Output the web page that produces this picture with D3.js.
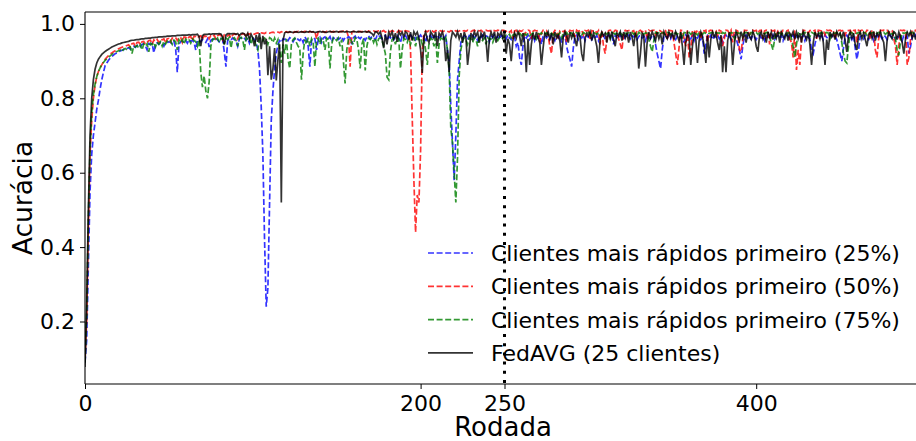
<!DOCTYPE html>
<meta charset="utf-8">
<style>
    body {
        margin: 0;
        background: #fff;
    }

    svg text {
        font-family: "DejaVu Sans", sans-serif;
        fill: #000;
    }
</style>

<body>
    <svg width="916" height="441"></svg>
    <script src="https://d3js.org/d3.v7.min.js"></script>
    <script>
        // accuracy per round, in thousandths
        var fast25 = [
            90,150,350,550,650,700,735,770,795,825,850,870,888,895,902,908,912,916,920,922,925,927,929,931,930,
            934,936,932,938,940,937,942,944,939,945,946,941,930,947,944,948,922,946,949,945,950,948,940,951,949,
            952,950,946,953,935,870,945,952,954,950,955,948,958,953,956,950,930,957,955,952,958,954,950,959,938,
            956,959,955,960,957,952,961,958,925,885,955,960,957,962,958,954,940,960,963,958,961,956,962,948,960,
            962,958,950,930,880,780,650,420,240,290,520,740,820,880,920,945,955,950,960,958,962,955,963,960,952,
            960,964,958,955,962,950,965,958,940,885,955,962,960,930,958,964,950,962,965,958,960,966,952,963,960,
            964,958,962,966,955,963,960,966,962,945,963,967,958,964,960,966,962,956,965,968,960,966,963,958,967,
            963,968,960,965,969,955,966,962,968,958,966,969,962,950,967,964,969,960,966,970,963,968,958,969,965,
            970,962,967,950,969,965,970,958,968,964,970,962,966,970,960,968,930,900,780,680,580,700,850,900,950,
            962,968,965,958,969,966,970,962,967,955,969,964,970,960,968,966,952,969,963,970,962,967,958,970,965,
            968,960,970,962,958,969,965,940,950,910,890,940,968,962,970,958,966,970,955,968,962,969,945,966,970,
            962,968,958,970,964,955,968,962,970,950,966,969,940,920,905,885,935,966,970,958,968,962,970,955,968,
            964,970,958,967,962,970,955,968,965,970,958,966,970,962,968,945,970,964,960,970,966,958,969,963,970,
            960,968,965,970,958,966,970,962,968,955,970,964,960,968,970,945,920,900,880,930,965,970,962,968,960,
            970,965,958,968,970,962,966,950,970,964,968,960,970,955,968,962,970,958,966,920,945,968,962,970,958,
            968,964,970,960,966,950,968,970,962,968,958,966,970,962,945,930,905,940,966,970,962,968,960,970,965,
            958,968,970,962,966,955,970,964,968,960,970,958,966,968,962,970,955,968,964,970,960,966,970,958,968,
            965,970,962,968,955,970,964,960,930,920,945,966,970,962,968,958,970,964,960,968,970,962,966,958,940,
            920,900,935,966,970,962,968,958,970,935,905,930,966,968,960,970,962,958,968,970,955,966,970,962,968,
            960,970,966,958,968,970,962,966,958,970,964,968,955,970,962,966,920,940,968,962,970,958,966,970,962
        ];

        var fast50 = [
            100,200,450,650,740,800,835,858,872,882,890,898,905,910,915,919,922,925,928,930,933,935,937,939,940,
            942,944,938,947,948,940,950,951,944,952,953,946,950,955,956,945,957,953,958,950,959,957,960,948,960,
            961,952,962,961,963,955,963,964,950,965,964,958,965,966,955,967,966,962,967,968,958,968,966,969,960,
            969,966,970,960,968,971,970,958,971,972,968,971,962,970,973,972,960,973,970,974,973,965,974,972,975,
            974,972,975,976,973,976,975,974,977,976,975,977,978,976,977,978,976,979,977,978,979,977,978,979,976,
            979,978,980,977,979,978,980,979,976,980,979,978,980,960,979,978,980,979,977,980,979,980,978,980,979,
            980,978,980,979,981,978,980,965,885,978,980,979,981,978,980,979,981,980,978,981,979,980,981,979,980,
            981,979,980,982,978,981,980,979,982,980,981,978,982,980,981,979,982,981,980,930,750,580,440,540,520,
            660,930,975,981,979,982,980,981,978,982,981,980,982,979,981,982,980,978,982,981,979,982,980,981,983,
            981,982,980,983,981,979,982,983,980,982,981,983,979,982,983,981,982,980,983,982,981,983,982,980,983,
            982,980,983,978,982,960,981,983,975,982,980,983,970,981,983,982,960,980,983,981,982,950,975,983,981,
            982,970,940,920,975,983,981,960,982,983,979,982,950,975,983,981,982,965,983,980,982,983,970,982,981,
            983,960,982,981,983,975,982,945,983,940,920,960,982,983,981,978,983,982,960,945,930,975,983,981,982,
            983,980,982,965,983,981,983,978,982,983,960,983,981,982,983,970,982,983,981,975,983,982,960,983,982,
            981,950,920,890,935,983,982,960,940,983,910,930,982,983,975,983,982,960,983,981,983,950,982,983,981,
            983,982,970,983,981,940,960,983,982,975,983,950,982,983,981,930,925,960,983,982,983,970,982,983,981,
            983,975,982,983,960,981,983,982,945,983,981,983,970,982,983,975,983,982,981,983,960,950,910,983,876,
            930,890,960,983,982,983,975,982,983,981,983,960,983,982,981,983,970,983,982,983,981,983,960,983,982,
            983,981,983,970,983,982,983,975,982,983,950,983,981,983,982,975,983,982,960,983,981,930,910,960,983,
            982,983,981,983,975,983,982,960,940,890,940,983,982,983,981,890,910,960,983,982,983,975,983,982,930
        ];

        var fast75 = [
            90,220,480,660,760,810,838,858,872,882,890,896,902,906,910,914,918,921,924,926,928,930,925,932,934,
            930,936,938,920,940,938,942,935,944,930,946,940,947,925,948,944,950,938,951,945,952,940,953,946,954,
            950,955,945,956,952,930,957,950,958,945,959,954,957,948,960,956,952,940,958,870,830,860,820,800,845,
            940,958,961,955,962,950,960,963,945,962,958,964,935,960,963,956,940,962,964,958,930,963,960,965,945,
            962,958,940,930,960,964,955,962,958,945,963,960,950,962,948,958,930,895,945,920,960,905,880,945,958,
            962,950,940,935,850,920,958,945,963,940,960,950,885,958,962,945,960,955,930,962,958,880,945,963,960,
            955,962,940,958,900,840,930,958,962,950,945,963,958,930,880,945,960,875,940,962,958,963,950,962,945,
            960,963,955,940,920,857,850,925,958,962,945,963,960,880,930,962,958,950,963,945,960,962,940,963,958,
            962,945,958,930,890,950,962,958,940,963,895,945,962,960,955,963,930,880,720,680,600,520,640,860,930,
            955,962,958,945,963,960,950,962,958,940,963,960,955,962,945,963,958,960,950,963,962,955,963,958,962,
            965,970,968,972,960,970,973,968,972,975,970,965,973,970,975,968,972,976,970,960,974,972,976,970,973,
            976,972,968,975,970,976,973,970,976,962,975,972,977,970,974,976,968,975,977,972,976,970,977,974,972,
            977,974,970,977,975,972,977,968,976,974,977,972,976,960,977,975,972,977,974,976,970,977,975,972,977,
            975,977,972,976,968,977,974,977,972,976,975,960,940,925,955,977,974,976,972,977,975,970,977,976,972,
            977,974,976,972,977,975,960,977,976,974,977,972,976,977,974,970,977,976,972,977,975,977,974,976,977,
            972,977,975,976,970,977,974,977,976,972,977,975,960,977,976,974,977,972,976,977,975,970,977,976,974,
            977,972,976,977,975,974,977,976,970,945,930,960,977,975,976,972,977,974,970,976,977,960,940,910,945,
            975,977,972,976,977,974,976,965,977,975,972,977,976,974,977,972,976,977,975,960,977,976,974,977,972,
            976,950,920,900,895,940,975,977,972,976,974,977,975,972,977,976,970,977,974,976,977,972,975,977,976,
            974,977,972,976,977,975,972,977,960,930,915,955,977,974,976,977,972,976,977,974,975,977,972,976,977
        ];

        var fedavg = [
            78,250,500,700,800,850,878,895,905,912,918,922,926,929,932,935,938,940,942,944,946,947,949,950,951,
            952,953,955,956,956,957,958,958,959,960,960,961,961,962,962,963,963,964,964,965,965,965,966,966,967,
            967,967,968,968,968,969,969,969,970,970,970,970,971,970,971,971,971,972,966,940,968,972,972,972,973,
            972,973,973,973,973,974,973,965,945,970,974,974,973,974,974,972,974,968,974,975,973,966,975,958,972,
            962,940,970,952,975,932,968,945,960,862,940,850,880,935,848,905,945,520,955,976,978,977,979,978,977,
            978,979,977,978,979,978,977,979,978,980,978,979,977,978,979,980,978,979,978,977,979,980,979,978,979,
            980,978,979,980,979,978,980,979,978,979,980,979,978,980,979,978,979,980,978,979,977,974,968,979,978,
            972,979,962,935,972,945,978,968,979,960,975,952,979,970,978,965,979,975,958,978,955,979,970,978,962,
            930,868,965,978,958,950,979,972,962,978,940,975,968,979,960,900,930,870,955,978,972,965,979,960,975,
            950,978,965,890,930,975,960,979,968,978,950,975,962,979,955,898,960,978,965,979,950,975,968,979,962,
            975,920,960,945,900,955,975,962,979,968,940,975,950,870,960,890,945,975,958,978,962,950,890,935,975,
            968,979,960,975,945,978,962,970,955,910,965,979,968,950,978,962,975,958,940,978,965,920,900,960,975,
            968,979,955,975,960,940,895,958,978,968,975,950,978,962,979,958,940,975,968,979,955,978,962,975,950,
            978,965,940,975,960,880,920,975,968,885,950,978,962,979,968,955,978,960,975,945,979,968,960,978,965,
            975,958,979,968,955,978,940,890,950,975,962,890,940,978,960,895,955,978,965,940,895,968,910,960,978,
            965,975,950,930,970,870,940,870,955,978,960,890,945,978,968,955,979,962,975,950,978,965,958,979,968,
            940,925,968,978,960,975,950,979,965,978,958,975,962,979,950,978,968,960,979,955,975,968,979,962,978,
            960,975,950,979,968,958,978,945,890,950,978,965,975,960,979,950,890,958,930,978,965,975,958,979,968,
            975,960,979,955,925,968,978,962,975,945,930,968,978,960,975,958,940,970,978,962,979,955,975,968,979,
            962,950,900,955,978,968,960,979,975,958,978,965,950,920,960,978,968,979,962,975,958,979,968,975,962
        ];

        var labels = [
            "Clientes mais rápidos primeiro (25%)",
            "Clientes mais rápidos primeiro (50%)",
            "Clientes mais rápidos primeiro (75%)",
            "FedAVG (25 clientes)"
        ];
        var xTicks = [0, 200, 250, 400];
        var yTicks = [0.2, 0.4, 0.6, 0.8, 1.0];
        var splitRound = 250;

        var series = [
            { name: labels[0], values: fast25, color: "blue", dash: "6,2.6" },
            { name: labels[1], values: fast50, color: "red", dash: "6,2.6" },
            { name: labels[2], values: fast75, color: "green", dash: "6,2.6" },
            { name: labels[3], values: fedavg, color: "black", dash: null }
        ];

        var svg = d3.select("svg");
        var padLeft = 85, padTop = 12, padBottom = 384;

        var x = d3.scaleLinear().domain([0, 500]).range([padLeft, padLeft + 839]);
        var y = d3.scaleLinear().domain([0.032, 1.032]).range([padBottom, padTop]);

        svg.append("defs").append("clipPath").attr("id", "plotclip")
            .append("rect")
            .attr("x", padLeft).attr("y", padTop)
            .attr("width", 916 - padLeft).attr("height", padBottom - padTop);

        var line = d3.line()
            .x(function(d, i) { return x(i); })
            .y(function(d) { return y(d / 1000); });

        var g = svg.append("g").attr("clip-path", "url(#plotclip)");

        g.selectAll(".series")
            .data(series)
            .enter().append("path")
            .attr("class", "series")
            .attr("fill", "none")
            .attr("stroke", function(d) { return d.color; })
            .attr("stroke-opacity", 0.8)
            .attr("stroke-width", 1.7)
            .attr("stroke-dasharray", function(d) { return d.dash; })
            .attr("d", function(d) { return line(d.values); });

        // dotted marker at the split round
        svg.append("line")
            .attr("x1", x(splitRound)).attr("x2", x(splitRound))
            .attr("y1", padTop).attr("y2", padBottom)
            .attr("stroke", "black")
            .attr("stroke-width", 3)
            .attr("stroke-dasharray", "3,6.2");

        // axes
        var xAxis = svg.append("g")
            .attr("transform", "translate(0," + padBottom + ")")
            .call(d3.axisBottom(x).tickValues(xTicks).tickSize(5).tickSizeOuter(0).tickFormat(d3.format("d")));
        xAxis.select(".domain").remove();
        xAxis.selectAll("text").attr("font-size", 22).attr("dy", "0.85em");

        var yAxis = svg.append("g")
            .attr("transform", "translate(" + padLeft + ",0)")
            .call(d3.axisLeft(y).tickValues(yTicks).tickSize(5).tickFormat(d3.format(".1f")));
        yAxis.select(".domain").remove();
        yAxis.selectAll("text").attr("font-size", 22).attr("x", -10);

        // spines
        svg.append("line").attr("x1", padLeft).attr("x2", 916).attr("y1", padTop).attr("y2", padTop)
            .attr("stroke", "black").attr("stroke-width", 1.1);
        svg.append("line").attr("x1", padLeft).attr("x2", 916).attr("y1", padBottom).attr("y2", padBottom)
            .attr("stroke", "black").attr("stroke-width", 1.1);
        svg.append("line").attr("x1", padLeft).attr("x2", padLeft).attr("y1", padTop).attr("y2", padBottom)
            .attr("stroke", "black").attr("stroke-width", 1.1);

        svg.append("text")
            .attr("x", 503).attr("y", 436)
            .attr("text-anchor", "middle")
            .attr("font-size", 26)
            .text("Rodada");

        svg.append("text")
            .attr("transform", "translate(32,198) rotate(-90)")
            .attr("text-anchor", "middle")
            .attr("font-size", 26.5)
            .text("Acurácia");

        // legend, no frame
        var legend = svg.append("g").attr("transform", "translate(428,253)");
        var item = legend.selectAll(".item")
            .data(series)
            .enter().append("g")
            .attr("class", "item")
            .attr("transform", function(d, i) { return "translate(0," + (i * 33.3) + ")"; });
        item.append("line")
            .attr("x1", 0).attr("x2", 45)
            .attr("stroke", function(d) { return d.color; })
            .attr("stroke-opacity", 0.8)
            .attr("stroke-width", 1.7)
            .attr("stroke-dasharray", function(d) { return d.dash; });
        item.append("text")
            .attr("x", 63).attr("y", 8)
            .attr("font-size", 22)
            .text(function(d) { return d.name; });
    </script>
</body>
